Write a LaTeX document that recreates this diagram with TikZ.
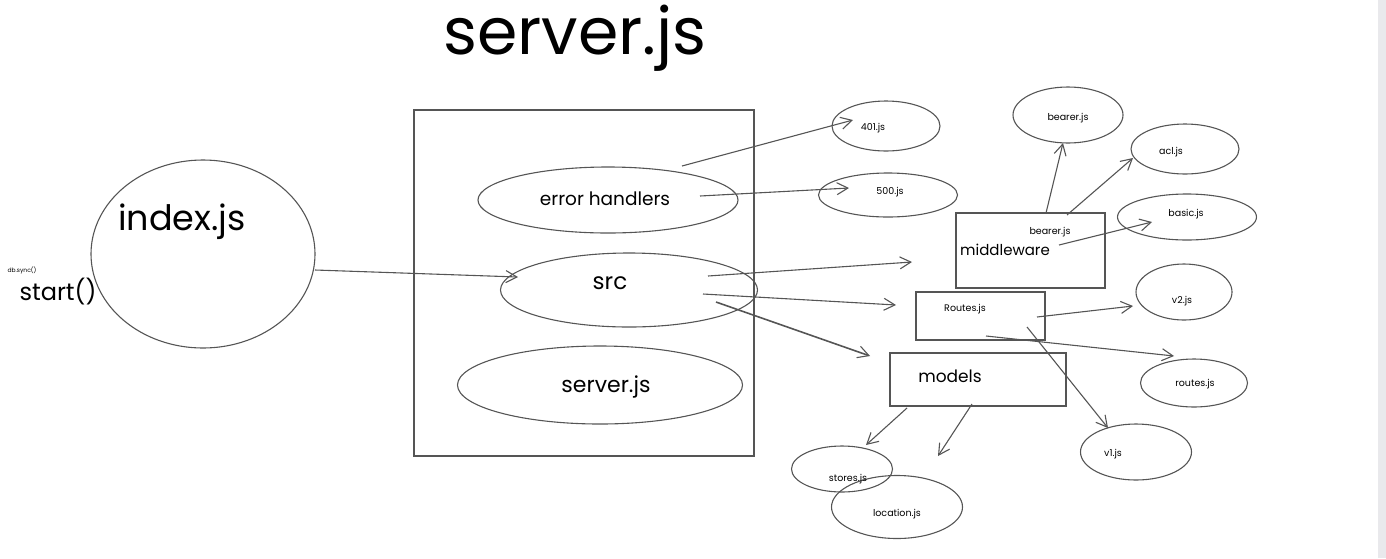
\documentclass[tikz,border=0pt]{standalone}
\usepackage{fontspec}
\setmainfont{Poppins}
\usetikzlibrary{shapes.geometric,arrows.meta}
\definecolor{stroke}{HTML}{555555}
\definecolor{strip}{HTML}{E9E9EC}
\tikzset{
  x=1pt,y=-1pt,
  oval/.style={ellipse,draw=stroke,line width=1.1pt,inner sep=0pt},
  boxx/.style={rectangle,draw=stroke,line width=1.1pt,inner sep=0pt},
  arr/.style={draw=stroke,line width=1.1pt,-{Straight Barb[length=11pt,width=12pt,line width=1.1pt]}},
  lbl/.style={inner sep=0pt,text=black},
  tiny/.style={lbl,font=\fontsize{9.5}{11}\selectfont},
}
\begin{document}
\begin{tikzpicture}
\useasboundingbox (0,0) rectangle (1386,558);
\fill[strip] (1378,0) rectangle (1386,558);

% title
\node[lbl,font=\fontsize{65}{72}\selectfont] (title) at (575,38) {server.js};

% index.js
\node[oval,minimum width=224pt,minimum height=188pt] (index) at (203,254) {};
\node[lbl,font=\fontsize{35}{40}\selectfont] (indexl) at (182,222) {index.js};
\node[lbl,font=\fontsize{6}{7}\selectfont] (dbsync) at (22,270) {db.sync()};
\node[lbl,font=\fontsize{24}{28}\selectfont] (start) at (58,292) {start()};

% server container
\node[boxx,minimum width=340pt,minimum height=346pt] (srv) at (584,283) {};
\node[oval,minimum width=260pt,minimum height=66pt] (err) at (608,200) {};
\node[lbl,font=\fontsize{18.5}{22}\selectfont] (errl) at (605,199) {error handlers};
\node[oval,minimum width=257pt,minimum height=74pt] (src) at (629,290) {};
\node[lbl,font=\fontsize{23}{26}\selectfont] (srcl) at (610,283) {src};
\node[oval,minimum width=285pt,minimum height=78pt] (srvjs) at (600,385) {};
\node[lbl,font=\fontsize{22}{26}\selectfont] (srvjsl) at (606,387) {server.js};

% right side nodes
\node[oval,minimum width=108pt,minimum height=50pt] (e401) at (886,126) {};
\node[tiny] at (873,128) {401.js};
\node[oval,minimum width=139pt,minimum height=44pt] (e500) at (888,195) {};
\node[tiny] at (890,192) {500.js};

\node[boxx,minimum width=149pt,minimum height=75pt] (mw) at (1030.5,250.5) {};
\node[tiny] (mwb) at (1050,232) {bearer.js};
\node[lbl,font=\fontsize{15}{18}\selectfont] (mwl) at (1005,250) {middleware};

\node[oval,minimum width=110pt,minimum height=56pt] (bearer) at (1068,115) {};
\node[tiny] at (1068,118) {bearer.js};
\node[oval,minimum width=108pt,minimum height=50pt] (acl) at (1185,149) {};
\node[tiny] at (1171,152) {acl.js};
\node[oval,minimum width=139pt,minimum height=46pt] (basic) at (1187,217) {};
\node[tiny] at (1186,214) {basic.js};

\node[boxx,minimum width=129pt,minimum height=48pt] (routes) at (980.5,316) {};
\node[tiny] (routesl) at (965,309) {Routes.js};
\node[boxx,minimum width=176pt,minimum height=53pt] (models) at (978,379.5) {};
\node[lbl,font=\fontsize{17}{20}\selectfont] (modelsl) at (950,376) {models};

\node[oval,minimum width=96pt,minimum height=56pt] (v2) at (1184,292) {};
\node[tiny] at (1182,301) {v2.js};
\node[oval,minimum width=107pt,minimum height=48pt] (rjs) at (1194,383) {};
\node[tiny] at (1195,384) {routes.js};
\node[oval,minimum width=111pt,minimum height=56pt] (v1) at (1136,452) {};
\node[tiny] at (1113,454) {v1.js};

\node[oval,minimum width=101pt,minimum height=46pt] (stores) at (842,469) {};
\node[oval,minimum width=131pt,minimum height=63pt] (loc) at (897,507) {};
\node[tiny] at (848,479) {stores.js};
\node[tiny] at (897,514) {location.js};

% arrow end points
\coordinate (a1s) at (315,270);  \coordinate (a1e) at (518,277);
\coordinate (a2s) at (682,166);  \coordinate (a2e) at (853,120);
\coordinate (a3s) at (700,196);  \coordinate (a3e) at (849,188);
\coordinate (a4s) at (708,276);  \coordinate (a4e) at (912,262);
\coordinate (a5s) at (703,294);  \coordinate (a5e) at (896,305);
\coordinate (a6s) at (716,302);  \coordinate (a6e) at (870,356);
\coordinate (b1s) at (1046,213); \coordinate (b1e) at (1063,143);
\coordinate (b2s) at (1067,215); \coordinate (b2e) at (1133,158);
\coordinate (b3s) at (1059,245); \coordinate (b3e) at (1152,222);
\coordinate (c1s) at (1037,317); \coordinate (c1e) at (1133,306);
\coordinate (c2s) at (986,336);  \coordinate (c2e) at (1174,356);
\coordinate (c3s) at (1027,327); \coordinate (c3e) at (1108,428);
\coordinate (d1s) at (907,408);  \coordinate (d1e) at (866,445);
\coordinate (d2s) at (972,404);  \coordinate (d2e) at (938,456);

\draw[arr] (a1s) -- (a1e);
\draw[arr] (a2s) -- (a2e);
\draw[arr] (a3s) -- (a3e);
\draw[arr] (a4s) -- (a4e);
\draw[arr] (a5s) -- (a5e);
\draw[arr,line width=1.6pt] (a6s) -- (a6e);
\draw[arr] (b1s) -- (b1e);
\draw[arr] (b2s) -- (b2e);
\draw[arr] (b3s) -- (b3e);
\draw[arr] (c1s) -- (c1e);
\draw[arr] (c2s) -- (c2e);
\draw[arr] (c3s) -- (c3e);
\draw[arr] (d1s) -- (d1e);
\draw[arr] (d2s) -- (d2e);
\end{tikzpicture}
\end{document}
